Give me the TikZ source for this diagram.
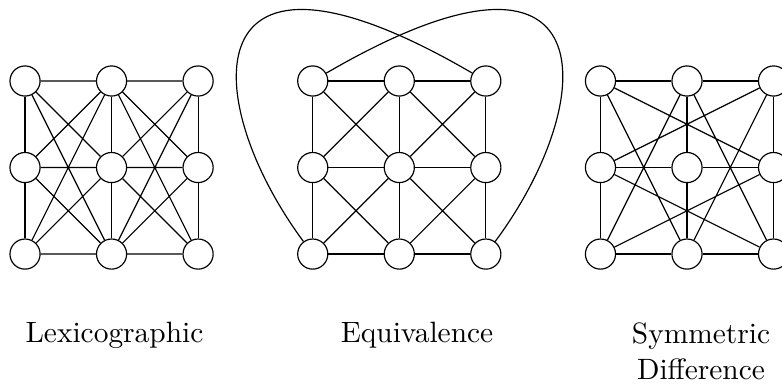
\documentclass[tikz,border=0pt]{standalone}
\usetikzlibrary{positioning}
\tikzset{
  vertex/.style={draw,circle,minimum size=3.6mm,inner sep=0pt},
  caption/.style={anchor=base,align=center}
}

\begin{document}
\begin{tikzpicture}[on grid,node distance=10.34mm]
  \useasboundingbox (0,0) rectangle (9.344,-4.624);
  % lexicographic
  \node[vertex] (L00) at (0.299,-0.968) {};
  \node[vertex,right=of L00] (L01) {};
  \node[vertex,right=of L01] (L02) {};
  \node[vertex,below=of L00] (L10) {};
  \node[vertex,right=of L10] (L11) {};
  \node[vertex,right=of L11] (L12) {};
  \node[vertex,below=of L10] (L20) {};
  \node[vertex,right=of L20] (L21) {};
  \node[vertex,right=of L21] (L22) {};
  % equivalence
  \node[vertex,right=13.7mm of L02] (M00) {};
  \node[vertex,right=of M00] (M01) {};
  \node[vertex,right=of M01] (M02) {};
  \node[vertex,below=of M00] (M10) {};
  \node[vertex,right=of M10] (M11) {};
  \node[vertex,right=of M11] (M12) {};
  \node[vertex,below=of M10] (M20) {};
  \node[vertex,right=of M20] (M21) {};
  \node[vertex,right=of M21] (M22) {};
  % symmetric difference
  \node[vertex,right=13.7mm of M02] (R00) {};
  \node[vertex,right=of R00] (R01) {};
  \node[vertex,right=of R01] (R02) {};
  \node[vertex,below=of R00] (R10) {};
  \node[vertex,right=of R10] (R11) {};
  \node[vertex,right=of R11] (R12) {};
  \node[vertex,below=of R10] (R20) {};
  \node[vertex,right=of R20] (R21) {};
  \node[vertex,right=of R21] (R22) {};

  \draw (L00) -- (L10) (L10) -- (L20) (L01) -- (L11) (L11) -- (L21) (L02) -- (L12) (L12) -- (L22);
  \draw (L00) -- (L01) (L00) -- (L11) (L00) -- (L21)
        (L10) -- (L01) (L10) -- (L11) (L10) -- (L21)
        (L20) -- (L01) (L20) -- (L11) (L20) -- (L21);
  \draw (L01) -- (L02) (L01) -- (L12) (L01) -- (L22)
        (L11) -- (L02) (L11) -- (L12) (L11) -- (L22)
        (L21) -- (L02) (L21) -- (L12) (L21) -- (L22);

  \draw (M00) -- (M01) (M01) -- (M02) (M10) -- (M11) (M11) -- (M12) (M20) -- (M21) (M21) -- (M22);
  \draw (M00) -- (M10) (M10) -- (M20) (M01) -- (M11) (M11) -- (M21) (M02) -- (M12) (M12) -- (M22);
  \draw (M00) -- (M11) (M01) -- (M10) (M01) -- (M12) (M02) -- (M11)
        (M10) -- (M21) (M11) -- (M20) (M11) -- (M22) (M12) -- (M21);
  \draw (M00) .. controls (7.29,1.10) and (7.17,-1.20) .. (M22);
  \draw (M02) .. controls (2.26,1.10) and (2.38,-1.20) .. (M20);

  \draw (R00) -- (R01) (R01) -- (R02) (R10) -- (R11) (R11) -- (R12) (R20) -- (R21) (R21) -- (R22);
  \draw (R00) -- (R10) (R10) -- (R20) (R01) -- (R11) (R11) -- (R21) (R02) -- (R12) (R12) -- (R22);
  \draw (R00) -- (R21) (R01) -- (R20) (R01) -- (R22) (R02) -- (R21)
        (R00) -- (R12) (R02) -- (R10) (R10) -- (R22) (R12) -- (R20);

  \node[caption] (lexlabel) at (1.368,-4.087) {Lexicographic};
  \node[caption] (eqlabel) at (4.983,-4.087) {Equivalence};
  \node[caption] (symlabel) at (8.376,-4.53) {Symmetric\\Difference};
\end{tikzpicture}
\end{document}
